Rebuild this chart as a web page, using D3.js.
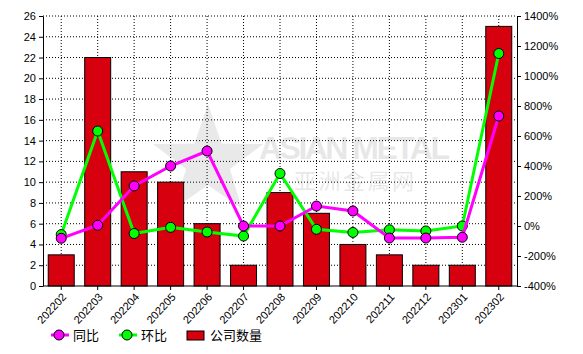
<!DOCTYPE html>
<html lang="zh">
<head>
<meta charset="UTF-8">
<title>公司数量</title>
<script src="https://d3js.org/d3.v7.min.js"></script>
<style>
    body { margin: 0; background: #fff; }
    svg { font-family: Arial, "Liberation Sans", "Noto Sans CJK SC", sans-serif; }
    .grid line { stroke: #000; stroke-dasharray: 1,2; stroke-width: 1; }
    .axis text { font-size: 11px; fill: #000; }
    .axis path, .axis line { stroke: #000; }
</style>
</head>
<body>
<div id="chart"></div>
<script>
    // data
    var months = ["202202","202203","202204","202205","202206","202207","202208",
                  "202209","202210","202211","202212","202301","202302"];
    var companies = [3, 22, 11, 10, 6, 2, 9, 7, 4, 3, 2, 2, 25];
    var yoy = [-82, 5, 267, 400, 500, 0, 0, 133, 100, -80, -80, -75, 733];   // 同比 %
    var mom = [-57, 633, -50, -9, -40, -67, 350, -22, -43, -25, -33, 0, 1150]; // 环比 %
    var leftTicks = d3.range(0, 27, 2);
    var rightTicks = d3.range(-400, 1401, 200);

    var W = 583, H = 354;
    var pL = 43, pR = 517, pT = 16, pB = 286;

    var svg = d3.select("#chart").append("svg")
        .attr("width", W).attr("height", H);

    var x = d3.scaleBand().domain(months).range([pL, pR])
        .paddingInner(0.287).paddingOuter(0.1435);
    var y = d3.scaleLinear().domain([0, 26]).range([pB, pT]);
    var y2 = d3.scaleLinear().domain([-400, 1400]).range([pB, pT]);
    var cx = function (m) { return x(m) + x.bandwidth() / 2; };

    // grid
    var grid = svg.append("g").attr("class", "grid");
    grid.selectAll(".h").data(leftTicks.slice(1)).enter().append("line")
        .attr("x1", pL).attr("x2", pR)
        .attr("y1", function (d) { return y(d); }).attr("y2", function (d) { return y(d); });
    grid.selectAll(".v").data(months).enter().append("line")
        .attr("x1", cx).attr("x2", cx).attr("y1", pT).attr("y2", pB);

    // watermark
    var wm = svg.append("g").attr("opacity", 0.11);
    var star = d3.range(10).map(function (i) {
        var r = i % 2 ? 23 : 58, a = -Math.PI / 2 + i * Math.PI / 5;
        return [208 + r * Math.cos(a), 162 + r * Math.sin(a)];
    });
    wm.append("polygon").attr("points", star.join(" ")).attr("fill", "#333");
    wm.append("text").attr("x", 259).attr("y", 159).attr("font-size", 32)
        .attr("textLength", 191).attr("font-weight", "bold").attr("fill", "#333").text("ASIAN METAL");
    wm.append("text").attr("x", 294).attr("y", 189).attr("font-size", 22)
        .attr("textLength", 120)
        .attr("font-family", "Noto Sans CJK SC").attr("fill", "#333").text("亚洲金属网");

    // bars
    svg.selectAll(".bar").data(months).enter().append("rect")
        .attr("x", function (m) { return x(m); })
        .attr("width", x.bandwidth())
        .attr("y", function (m, i) { return y(companies[i]); })
        .attr("height", function (m, i) { return pB - y(companies[i]); })
        .attr("fill", "#d7000f").attr("stroke", "#000").attr("stroke-width", 1);

    // axes
    svg.append("g").attr("class", "axis")
        .attr("transform", "translate(" + pL + ",0)")
        .call(d3.axisLeft(y).tickValues(leftTicks).tickSize(4).tickSizeOuter(0));
    svg.append("g").attr("class", "axis")
        .attr("transform", "translate(" + pR + ",0)")
        .call(d3.axisRight(y2).tickValues(rightTicks).tickSize(4).tickSizeOuter(0)
            .tickFormat(function (d) { return d + "%"; }));
    var xa = svg.append("g").attr("class", "axis")
        .attr("transform", "translate(0," + pB + ")")
        .call(d3.axisBottom(x).tickSize(4).tickSizeOuter(0));
    xa.select(".domain").attr("d", "M" + pL + ",0H" + pR);
    xa.selectAll("text")
        .attr("text-anchor", "end")
        .attr("font-size", 12).attr("fill", "#222")
        .attr("x", 0).attr("y", 0).attr("dy", "0.35em")
        .attr("transform", "translate(3,9) rotate(-47)");

    // lines
    function drawLine(vals, color) {
        svg.append("path").datum(vals)
            .attr("fill", "none").attr("stroke", color).attr("stroke-width", 3)
            .attr("d", d3.line()
                .x(function (d, i) { return cx(months[i]); })
                .y(function (d) { return y2(d); }));
        svg.selectAll(null).data(vals).enter().append("circle")
            .attr("cx", function (d, i) { return cx(months[i]); })
            .attr("cy", function (d) { return y2(d); })
            .attr("r", 5).attr("fill", color).attr("stroke", "#000").attr("stroke-width", 1);
    }
    drawLine(mom, "#00ff00");
    drawLine(yoy, "#ff00ff");

    // legend
    var lg = svg.append("g").attr("font-size", 13)
        .attr("font-family", "'Noto Sans CJK SC', sans-serif");
    var ly = 335;
    [{c: "#ff00ff", t: "同比", x: 51}, {c: "#00ff00", t: "环比", x: 119}].forEach(function (d) {
        lg.append("line").attr("x1", d.x).attr("x2", d.x + 18).attr("y1", ly).attr("y2", ly)
            .attr("stroke", d.c).attr("stroke-width", 3);
        lg.append("circle").attr("cx", d.x + 8).attr("cy", ly).attr("r", 5)
            .attr("fill", d.c).attr("stroke", "#000");
        lg.append("text").attr("x", d.x + 22).attr("y", ly + 4.5).attr("fill", "#000").text(d.t);
    });
    lg.append("rect").attr("x", 187).attr("y", 331).attr("width", 17).attr("height", 9)
        .attr("fill", "#d7000f").attr("stroke", "#000");
    lg.append("text").attr("x", 210).attr("y", ly + 4.5).attr("fill", "#000").text("公司数量");
</script>
</body>
</html>
